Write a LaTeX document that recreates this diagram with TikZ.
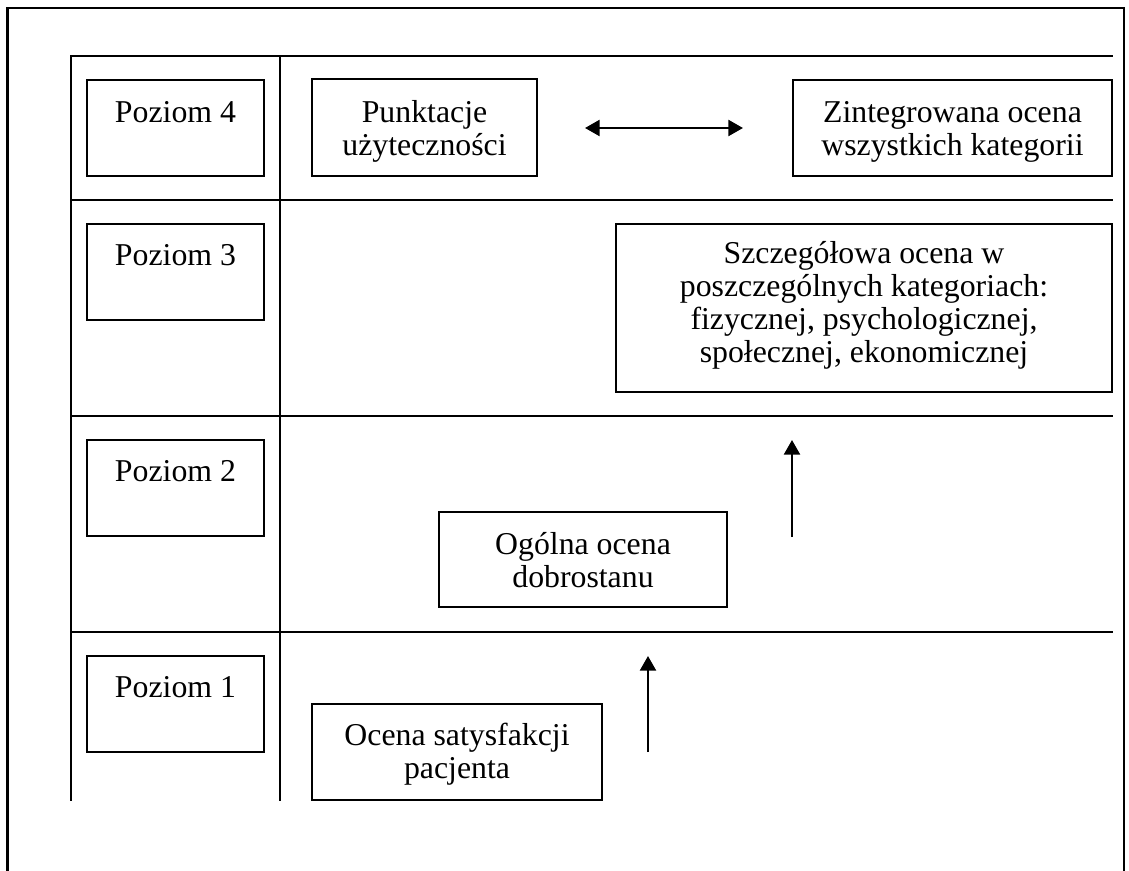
\documentclass[tikz,border=0pt]{standalone}
\usepackage{fontspec}
\setmainfont{Liberation Serif}
\usetikzlibrary{arrows.meta}
\newcommand\mybox[7]{%
 \pgfmathsetmacro\bw{(#4-#2)*0.3774}%
 \pgfmathsetmacro\bth{#6*0.3774}%
 \pgfmathsetmacro\btd{(#5-#3-#6)*0.3774}%
 \node[bx, minimum width=\bw pt, text height=\bth pt, text depth=\btd pt, anchor=north west] (#1) at (#2,#3) {#7};}
\begin{document}
\begin{tikzpicture}[x=0.3774pt, y=-0.3774pt,
  ln/.style={line width=0.8pt, line cap=rect},
  bx/.style={draw, line width=0.75pt, inner xsep=0pt, inner ysep=0pt, outer sep=0pt, align=center,
    font=\fontsize{12}{12.45}\selectfont},
  arr/.style={line width=0.9pt, -{Triangle[length=5.5pt,width=6pt]}},
  darr/.style={line width=0.9pt, {Triangle[length=5.5pt,width=6pt]}-{Triangle[length=5.5pt,width=6pt]}}]
\useasboundingbox (0,0) rectangle (1129,870);
% outer frame (open at bottom)
\draw[ln] (7.5,870) |- (1124,8) -- (1124,870);
% grid
\draw[ln] (71,56) -- (71,800);
\draw[ln] (280,56) -- (280,800);
\foreach \yy in {56,200,416,632} {\draw[ln] (71,\yy) -- (1112,\yy);}
% level boxes (last argument before text: offset of the last baseline from the top)
\mybox{p4}{87}{80}{264}{176}{42}{Poziom 4}
\mybox{p3}{87}{224}{264}{320}{41}{Poziom 3}
\mybox{p2}{87}{440}{264}{536}{41}{Poziom 2}
\mybox{p1}{87}{656}{264}{752}{41}{Poziom 1}
% content boxes
\mybox{punkt}{312}{79}{537}{176}{76}{Punktacje\\użyteczności}
\mybox{zint}{793}{80}{1112}{176}{75}{Zintegrowana ocena\\wszystkich kategorii}
\mybox{szcz}{616}{224}{1112}{392}{138}{Szczegółowa ocena w\\poszczególnych kategoriach:\\fizycznej, psychologicznej,\\społecznej, ekonomicznej}
\mybox{ogol}{439}{512}{727}{607}{75}{Ogólna ocena\\dobrostanu}
\mybox{ocena}{312}{704}{602}{800}{74}{Ocena satysfakcji\\pacjenta}
% arrows
\coordinate (a1) at (585,128);
\coordinate (a2) at (743,128);
\coordinate (b1) at (648,752);
\coordinate (b2) at (648,656);
\coordinate (c1) at (792,537);
\coordinate (c2) at (792,440);
\draw[darr] (a1) -- (a2);
\draw[arr] (b1) -- (b2);
\draw[arr] (c1) -- (c2);
\end{tikzpicture}
\end{document}
